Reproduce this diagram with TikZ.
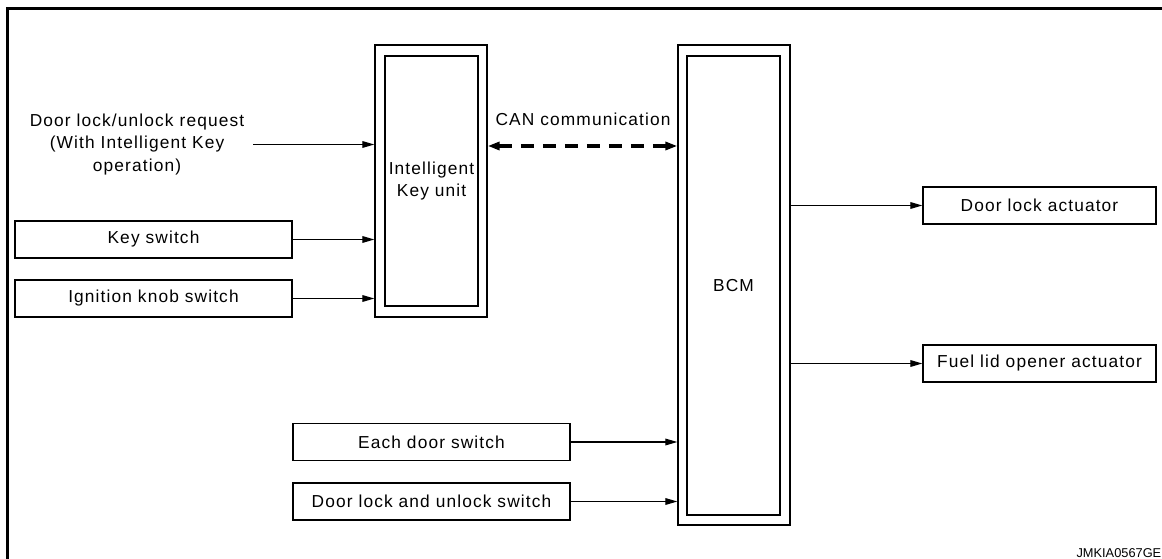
\documentclass[tikz,border=0pt]{standalone}
\usepackage{fontspec}
\setmainfont{Liberation Sans}[LetterSpace=6.5]
\newfontfamily\codefont{Liberation Sans}
\usetikzlibrary{arrows.meta}
\begin{document}
\begin{tikzpicture}[x=0.75pt, y=-0.75pt,
  font=\fontsize{13}{17}\selectfont,
  box/.style={draw, line width=1pt, inner sep=0pt, align=center},
  sw/.style={box, minimum width=207.75pt, minimum height=27.75pt},
  act/.style={box, minimum width=174.75pt, minimum height=27.75pt},
  outerbox/.style={box, minimum width=84pt},
  innerbox/.style={box, minimum width=69.75pt},
  arr/.style={-{Triangle[length=9pt,width=5pt]}, line width=0.9pt},
  can/.style={{Triangle[length=9pt,width=6pt]}-{Triangle[length=9pt,width=6pt]},
              line width=2.3pt, dash pattern=on 10pt off 6.5pt},
  frame/.style={line width=2.2pt}]
\useasboundingbox (0,0) rectangle (1162,559);

% sheet frame
\draw[frame] (7.3,559) -- (7.3,8.2) -- (1162,8.2);

% control units
\node[outerbox, minimum height=204pt] (ik) at (431,181) {};
\node[innerbox, minimum height=187.5pt] (ikin) at (431.5,181) {Intelligent\\Key unit};
\node[outerbox, minimum height=360pt] (bcm) at (734,285) {};
\node[innerbox, minimum height=344.25pt] (bcmin) at (733.5,285.5) {BCM};

% inputs
\node[align=center, inner sep=0pt, inner xsep=6.75pt] (req) at (137,144.5)
  {Door lock/unlock request\\(With Intelligent Key\\operation)};
\node[sw] (key) at (153.5,239.5) {Key switch};
\node[sw] (ign) at (153.5,298.5) {Ignition knob switch};
\node[sw] (eds) at (431.5,442) {Each door switch};
\node[sw] (dls) at (431.5,501.5) {Door lock and unlock switch};

% outputs
\node[act] (dla) at (1039.5,205.5) {Door lock actuator};
\node[act] (fla) at (1039.5,363.5) {Fuel lid opener actuator};

% connectors
\draw[arr] (req.east) -- (req.east -| ik.west);
\draw[arr] (key.east) -- (key.east -| ik.west);
\draw[arr] (ign.east) -- (ign.east -| ik.west);
\draw[arr] (eds.east) -- (eds.east -| bcm.west);
\draw[arr] (dls.east) -- (dls.east -| bcm.west);
\draw[arr] (dla.west -| bcm.east) -- (dla.west);
\draw[arr] (fla.west -| bcm.east) -- (fla.west);

% CAN link
\coordinate (canrow) at (583,146);
\draw[can] (ik.east |- canrow) -- (bcm.west |- canrow);
\node (canlbl) at (583,119) {CAN communication};

% drawing code
\node[anchor=east, inner sep=0pt, font=\codefont\fontsize{9.6}{11}\selectfont] (code) at (1161.5,553) {JMKIA0567GE};
\end{tikzpicture}
\end{document}
